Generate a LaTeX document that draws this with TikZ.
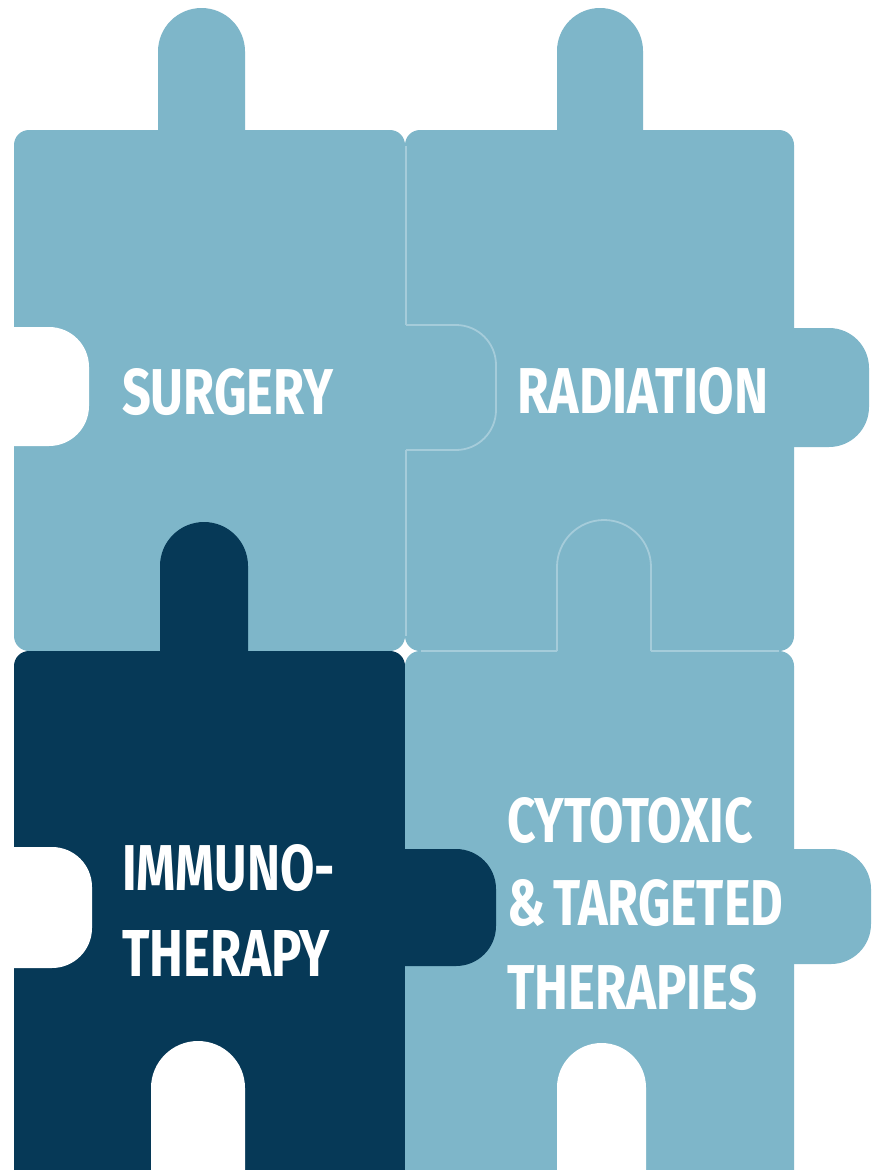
\documentclass[tikz,border=0pt]{standalone}
\usepackage{fontspec}
\setmainfont{Fira Sans}
\usepackage{graphicx}
\definecolor{lightpiece}{RGB}{126,182,201}
\definecolor{darkpiece}{RGB}{6,57,87}
\definecolor{seamcol}{RGB}{165,204,218}
\tikzset{
  lightfill/.style={fill=lightpiece},
  darkfill/.style={fill=darkpiece},
  holefill/.style={fill=white},
  seamline/.style={draw=seamcol, line width=1.8pt},
  label/.style={inner sep=0pt, outer sep=0pt, anchor=west, text=white, font=\bfseries}
}
\newcommand{\fitword}[3]{\resizebox{#1pt}{#2pt}{#3}}
\begin{document}
\begin{tikzpicture}[x=1pt, y=-1pt]
\useasboundingbox (0,0) rectangle (873,1170);
\fill[white] (0,0) rectangle (873,1170);
\clip (0,0) rectangle (873,1170);
% bodies
\fill[lightfill, rounded corners=15pt] (14,130) rectangle (405,651);
\fill[lightfill, rounded corners=15pt] (405,130) rectangle (794,651);
\fill[darkfill, rounded corners=15pt] (14,651) rectangle (405,1200);
\fill[lightfill, rounded corners=15pt] (405,651) rectangle (794,1200);
% outward tabs
\fill[lightfill, rounded corners=43.5pt] (158,140) -- (158,8) -- (245,8) -- (245,140);
\fill[lightfill, rounded corners=43pt] (557,140) -- (557,8) -- (643,8) -- (643,140);
\fill[lightfill, rounded corners=40pt] (780,328) -- (869,328) -- (869,447) -- (780,447);
\fill[lightfill, rounded corners=40pt] (780,849) -- (871,849) -- (871,964) -- (780,964);
% tabs of dark piece
\fill[darkfill, rounded corners=44pt] (160,660) -- (160,522) -- (248,522) -- (248,660);
\fill[darkfill, rounded corners=40pt] (395,849) -- (496,849) -- (496,966) -- (395,966);
% empty slots
\fill[holefill, rounded corners=40pt] (0,327) -- (89,327) -- (89,446) -- (0,446);
\fill[holefill, rounded corners=40pt] (0,847) -- (92,847) -- (92,968) -- (0,968);
\fill[holefill, rounded corners=47pt] (151,1200) -- (151,1041) -- (245,1041) -- (245,1200);
\fill[holefill, rounded corners=44.5pt] (557,1200) -- (557,1043) -- (646,1043) -- (646,1200);
% seams between light pieces
\coordinate (s1) at (406,146);
\coordinate (s2) at (406,325);
\coordinate (s3) at (406,450);
\coordinate (s4) at (406,636);
\draw[seamline] (s1) -- (s2);
\draw[seamline, rounded corners=40pt] (s2) -- (496,325) -- (496,450) -- (s3);
\draw[seamline] (s3) -- (s4);
\coordinate (t1) at (421,651);
\coordinate (t2) at (557,651);
\coordinate (t3) at (651,651);
\coordinate (t4) at (779,651);
\draw[seamline] (t1) -- (t2);
\draw[seamline, rounded corners=47pt] (t2) -- (557,520) -- (651,520) -- (t3);
\draw[seamline] (t3) -- (t4);
% labels
\node[label] (surgery) at (122,392) {\fitword{211}{46}{SURGERY}};
\node[label] (radiation) at (517,391.5) {\fitword{251}{46}{RADIATION}};
\node[label] (immuno1) at (122,868.5) {\fitword{213}{46}{IMMUNO-}};
\node[label] (immuno2) at (122,953.5) {\fitword{208}{46}{THERAPY}};
\node[label] (cyto1) at (507,820.5) {\fitword{246}{45}{CYTOTOXIC}};
\node[label] (cyto2) at (507,903.5) {\fitword{276}{46}{\&\,TARGETED}};
\node[label] (cyto3) at (507,987.5) {\fitword{250}{45}{THERAPIES}};
\end{tikzpicture}
\end{document}
